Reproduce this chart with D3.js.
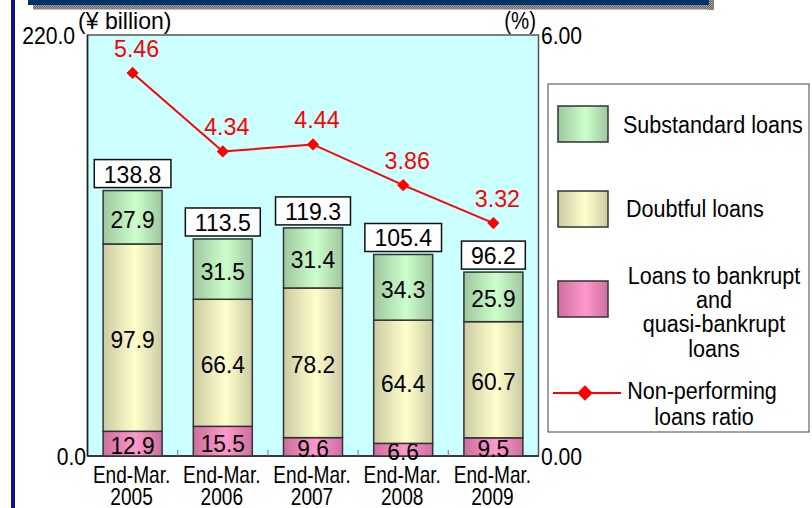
<!DOCTYPE html>
<html>
<head>
<meta charset="utf-8">
<script src="https://cdn.jsdelivr.net/npm/d3@7"></script>
<style>
  html, body { margin: 0; padding: 0; background: #fff; }
  svg { display: block; font-family: "Liberation Sans", Arial, sans-serif; }
</style>
</head>
<body>
<svg id="chart" width="812" height="508"></svg>
<script>
// ---- data ----
const years = ["2005", "2006", "2007", "2008", "2009"];
const bankrupt = [12.9, 15.5, 9.6, 6.6, 9.5];
const doubtful = [97.9, 66.4, 78.2, 64.4, 60.7];
const substandard = [27.9, 31.5, 31.4, 34.3, 25.9];
const totals = [138.8, 113.5, 119.3, 105.4, 96.2];
const ratio = [5.46, 4.34, 4.44, 3.86, 3.32];
const leftTicks = [0, 220];
const rightTicks = [0, 6];
const seriesNames = ["Substandard loans", "Doubtful loans",
  ["Loans to bankrupt", "and", "quasi-bankrupt", "loans"]];
const ratioName = ["Non-performing", "loans ratio"];

const svg = d3.select("#chart");
const plot = { left: 87.5, right: 538.5, top: 35, bottom: 456 };

const x = d3.scaleBand().domain(years)
  .range([plot.left, plot.right]).paddingInner(0.346).paddingOuter(0.173);
const y = d3.scaleLinear().domain([0, 220]).range([plot.bottom, plot.top]);
const yR = d3.scaleLinear().domain([0, 6]).range([plot.bottom, plot.top]);

// text helper: horizontally condensed glyphs anchored at (px, py)
function label(parent, px, py, str, o = {}) {
  const g = parent.append("g")
    .attr("transform", `translate(${px},${py}) scale(${o.sx || 1},1)`);
  return g.append("text")
    .attr("text-anchor", o.anchor || "start")
    .attr("font-size", o.size || 23)
    .attr("fill", o.fill || "#000")
    .text(str);
}

// ---- gradients & patterns ----
const defs = svg.append("defs");
function hGrad(id, edge, mid) {
  const g = defs.append("linearGradient").attr("id", id)
    .attr("x1", "0%").attr("x2", "100%").attr("y1", "0%").attr("y2", "0%");
  g.append("stop").attr("offset", "0%").attr("stop-color", edge);
  g.append("stop").attr("offset", "55%").attr("stop-color", mid);
  g.append("stop").attr("offset", "100%").attr("stop-color", edge);
}
hGrad("gGreen", "#9fc79f", "#ccffcc");
hGrad("gYellow", "#cbcba3", "#ffffcc");
hGrad("gPink", "#cc6f9e", "#ff99cc");
const fills = ["url(#gGreen)", "url(#gYellow)", "url(#gPink)"];

const pat = defs.append("pattern").attr("id", "checker")
  .attr("width", 2).attr("height", 2).attr("patternUnits", "userSpaceOnUse");
pat.append("rect").attr("width", 2).attr("height", 2).attr("fill", "#9a9a9a");
pat.append("rect").attr("width", 1).attr("height", 1).attr("fill", "#6a6a6a");
pat.append("rect").attr("x", 1).attr("y", 1).attr("width", 1).attr("height", 1).attr("fill", "#6a6a6a");

// ---- page frame decorations ----
svg.append("rect").attr("x", 11).attr("y", 0).attr("width", 4).attr("height", 508).attr("fill", "#10108a");
svg.append("rect").attr("x", 28).attr("y", 0).attr("width", 681).attr("height", 5).attr("fill", "#003366");
svg.append("rect").attr("x", 33).attr("y", 5).attr("width", 676).attr("height", 4.5).attr("fill", "url(#checker)");
svg.append("rect").attr("x", 709).attr("y", 0).attr("width", 5).attr("height", 10).attr("fill", "url(#checker)");

// ---- plot area ----
svg.append("rect")
  .attr("x", plot.left).attr("y", plot.top)
  .attr("width", plot.right - plot.left).attr("height", plot.bottom - plot.top)
  .attr("fill", "#ccffff").attr("stroke", "#555").attr("stroke-width", 1.5);
svg.append("line").attr("x1", plot.left).attr("x2", plot.left)
  .attr("y1", plot.top).attr("y2", plot.bottom).attr("stroke", "#222").attr("stroke-width", 1.5);
svg.append("line").attr("x1", plot.left).attr("x2", plot.right)
  .attr("y1", plot.bottom).attr("y2", plot.bottom).attr("stroke", "#222").attr("stroke-width", 1.5);

// category separators on the base line
const step = x.step();
d3.range(1, years.length).forEach(k => {
  const xx = plot.left + step * k;
  svg.append("line").attr("x1", xx).attr("x2", xx)
    .attr("y1", plot.bottom).attr("y2", plot.bottom - 6)
    .attr("stroke", "#777").attr("stroke-width", 1);
});

// ---- stacked bars ----
const stackOrder = [bankrupt, doubtful, substandard]; // bottom to top
const fillOrder = [fills[2], fills[1], fills[0]];
years.forEach((yr, i) => {
  let base = 0;
  stackOrder.forEach((arr, s) => {
    const v = arr[i];
    const y0 = y(base), y1 = y(base + v);
    svg.append("rect")
      .attr("x", x(yr)).attr("y", y1)
      .attr("width", x.bandwidth()).attr("height", y0 - y1)
      .attr("fill", fillOrder[s]).attr("stroke", "#333").attr("stroke-width", 1.5);
    label(svg, x(yr) + x.bandwidth() / 2, (y0 + y1) / 2 + 10.5, v.toFixed(1),
      { anchor: "middle", size: 24, sx: 0.95 });
    base += v;
  });
  // total box above the stack
  const cx = x(yr) + x.bandwidth() / 2;
  const boxBottom = y(base) - 3;
  const t = label(svg, cx, boxBottom - 5, totals[i].toFixed(1), { anchor: "middle", size: 24, sx: 0.96 });
  const w = t.node().getComputedTextLength() * 0.96 + 19;
  svg.insert("rect", () => t.node().parentNode)
    .attr("x", cx - w / 2).attr("y", boxBottom - 28)
    .attr("width", w).attr("height", 28)
    .attr("fill", "#fff").attr("stroke", "#111").attr("stroke-width", 1.5);
});

// ---- ratio line ----
const cxOf = i => x(years[i]) + x.bandwidth() / 2;
svg.append("path")
  .datum(ratio)
  .attr("d", d3.line().x((d, i) => cxOf(i)).y(d => yR(d)))
  .attr("fill", "none").attr("stroke", "#ff0000").attr("stroke-width", 2);
const diamond = d3.symbol().type(d3.symbolDiamond2).size(95);
ratio.forEach((v, i) => {
  svg.append("path").attr("d", diamond)
    .attr("transform", `translate(${cxOf(i)},${yR(v)})`)
    .attr("fill", "#ff0000");
  label(svg, cxOf(i) + 4, yR(v) - 16, v.toFixed(2),
    { anchor: "middle", size: 24, sx: 0.97, fill: "#ff0000" });
});

// ---- axes labels ----
leftTicks.forEach(v => {
  label(svg, v === 220 ? 75 : 86, y(v) + 9, v.toFixed(1), { anchor: "end", size: 24, sx: 0.88 });
});
rightTicks.forEach(v => {
  label(svg, 541, yR(v) + 9, v.toFixed(2), { anchor: "start", size: 24, sx: 0.88 });
});
label(svg, 78, 29, "(¥ billion)", { anchor: "start", size: 24, sx: 0.96 });
label(svg, 536, 29, "(%)", { anchor: "end", size: 24, sx: 0.85 });

years.forEach(yr => {
  const cx = x(yr) + x.bandwidth() / 2;
  label(svg, cx - 1, 483, "End-Mar.", { anchor: "middle", size: 23, sx: 0.83 });
  label(svg, cx - 1, 505, yr, { anchor: "middle", size: 23, sx: 0.83 });
});

// ---- legend ----
const leg = svg.append("g");
leg.append("rect").attr("x", 548).attr("y", 84).attr("width", 261).attr("height", 348)
  .attr("fill", "#fff").attr("stroke", "#444").attr("stroke-width", 1);
const swatchY = [106, 191, 281];
swatchY.forEach((sy, k) => {
  leg.append("rect").attr("x", 558).attr("y", sy).attr("width", 50).attr("height", 36)
    .attr("fill", fills[k]).attr("stroke", "#333").attr("stroke-width", 1.5);
});
const lo = { size: 24.5, sx: 0.88 };
label(leg, 623, 133, seriesNames[0], lo);
label(leg, 626, 217, seriesNames[1], lo);
[284, 308, 332, 357].forEach((by, j) => {
  label(leg, 714, by, seriesNames[2][j], { ...lo, anchor: "middle" });
});
leg.append("line").attr("x1", 553).attr("x2", 621).attr("y1", 393).attr("y2", 393)
  .attr("stroke", "#ff0000").attr("stroke-width", 2);
leg.append("path").attr("d", d3.symbol().type(d3.symbolDiamond2).size(150))
  .attr("transform", "translate(585,393)").attr("fill", "#ff0000");
label(leg, 702, 399, ratioName[0], { ...lo, anchor: "middle" });
label(leg, 704, 425, ratioName[1], { ...lo, anchor: "middle" });
</script>
</body>
</html>
